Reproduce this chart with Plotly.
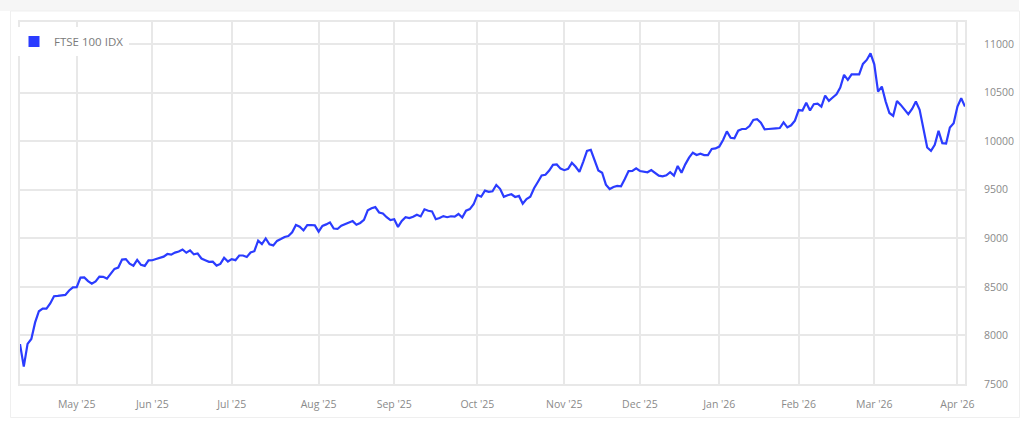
import pandas as pd
import plotly.graph_objects as go

# ---- data: FTSE 100 daily closes (trading days), grouped by month ----
apr25 = [7911, 7679, 7913, 7964, 8134, 8249, 8276, 8276, 8329, 8403, 8407, 8415, 8417, 8463, 8495]
may25 = [8497, 8596, 8597, 8559, 8532, 8555, 8605, 8603, 8585, 8634, 8685, 8699, 8781, 8786, 8739,
         8718, 8778, 8726, 8716, 8772]
jun25 = [8774, 8787, 8801, 8811, 8838, 8832, 8853, 8864, 8885, 8851, 8875, 8834, 8843, 8792, 8775,
         8758, 8759, 8719, 8736, 8799, 8761]
jul25 = [8785, 8775, 8823, 8823, 8807, 8854, 8867, 8976, 8941, 8998, 8938, 8927, 8973, 8992, 9013,
         9024, 9061, 9138, 9120, 9081, 9136, 9137, 9133]
aug25 = [9069, 9128, 9143, 9164, 9101, 9096, 9130, 9148, 9165, 9177, 9139, 9158, 9189, 9288, 9309,
         9321, 9266, 9256, 9217, 9187]
sep25 = [9196, 9117, 9178, 9217, 9208, 9221, 9243, 9225, 9298, 9283, 9277, 9196, 9208, 9228, 9217,
         9227, 9223, 9250, 9214, 9285, 9300, 9350]
oct25 = [9446, 9428, 9491, 9479, 9484, 9549, 9509, 9427, 9443, 9453, 9425, 9436, 9355, 9404, 9427,
         9515, 9579, 9646, 9654, 9697, 9756, 9760, 9717]
nov25 = [9701, 9715, 9777, 9736, 9683, 9787, 9900, 9911, 9808, 9698, 9675, 9552, 9507, 9528, 9540,
         9535, 9610, 9692, 9694, 9721]
dec25 = [9693, 9690, 9680, 9703, 9669, 9645, 9637, 9648, 9680, 9645, 9744, 9675, 9761, 9830, 9881,
         9857, 9870, 9857, 9857, 9919, 9925]
jan26 = [9944, 10012, 10101, 10035, 10030, 10108, 10125, 10125, 10156, 10218, 10225, 10190, 10121,
         10125, 10132, 10132, 10135, 10193, 10142, 10163, 10211]
feb26 = [10320, 10315, 10395, 10315, 10380, 10387, 10356, 10469, 10414, 10449, 10483, 10551, 10682,
         10630, 10688, 10688, 10688, 10795, 10836, 10904]
mar26 = [10791, 10510, 10562, 10410, 10290, 10260, 10414, 10373, 10329, 10277, 10332, 10408, 10322,
         10134, 9935, 9901, 9962, 10106, 9979, 9976, 10140, 10185]
apr26 = [10356, 10442, 10356]

series_name = "FTSE 100 IDX"
y_ticks = [7500, 8000, 8500, 9000, 9500, 10000, 10500, 11000]
market_holidays = ["2025-04-18", "2025-04-21", "2025-05-05", "2025-05-26", "2025-08-25",
                   "2025-12-25", "2025-12-26", "2026-01-01", "2026-04-03", "2026-04-06"]

values = apr25 + may25 + jun25 + jul25 + aug25 + sep25 + oct25 + nov25 + dec25 + jan26 + feb26 + mar26 + apr26
dates = [d for d in pd.bdate_range("2025-04-08", "2026-04-07")
         if d.strftime("%Y-%m-%d") not in market_holidays][:len(values)]
idx = list(range(len(values)))

# month ticks at first trading day of each month (after the first partial month)
tickvals, ticktext = [], []
for i, d in enumerate(dates):
    if i > 0 and d.month != dates[i - 1].month:
        tickvals.append(i)
        ticktext.append(d.strftime("%b '%y"))

# ---- layout geometry (pixels) ----
W, H = 1024, 438
L, R, T, B = 20, 59, 22, 54
pw, ph = W - L - R, H - T - B


def px_x(p):
    return (p - L) / pw


def px_y(p):
    return (H - B - p) / ph


BLUE = "#2b3cff"
GRID = "#e8e8e8"
TXT = "#8a8a8a"
FONT = "Open Sans"

fig = go.Figure()
fig.add_trace(go.Scatter(
    x=idx, y=values, mode="lines", name=series_name, showlegend=False,
    line=dict(color=BLUE, width=2.2),
    customdata=[d.strftime("%d %b %Y") for d in dates],
    hovertemplate="%{customdata}: %{y}<extra></extra>",
))
# legend entry (square swatch)
fig.add_trace(go.Scatter(
    x=[None], y=[None], mode="markers", name=series_name,
    marker=dict(symbol="square", size=11, color=BLUE),
))

fig.update_layout(
    width=W, height=H, autosize=False,
    margin=dict(l=L, r=R, t=T, b=B, pad=0),
    paper_bgcolor="white", plot_bgcolor="white",
    font=dict(family=FONT, size=11, color=TXT),
    showlegend=True,
    legend=dict(x=px_x(14), y=px_y(27), xanchor="left", yanchor="top",
                bgcolor="rgba(255,255,255,1)", borderwidth=0,
                font=dict(family=FONT, size=11.5, color="#7a7a7a"),
                itemwidth=30),
    xaxis=dict(
        range=[0, len(values) - 1], tickmode="array", tickvals=tickvals, ticktext=ticktext,
        showgrid=True, gridcolor=GRID, gridwidth=2, zeroline=False,
        showline=True, linecolor=GRID, linewidth=2, mirror=True,
        ticks="outside", ticklen=9, tickcolor="rgba(0,0,0,0)",
        tickfont=dict(family=FONT, size=10.5, color=TXT), fixedrange=True,
    ),
    yaxis=dict(
        side="right", range=[7500, 7500 + ph * 500 / 48.571], tickmode="array",
        tickvals=y_ticks, ticktext=[str(v) for v in y_ticks],
        showgrid=True, gridcolor=GRID, gridwidth=2, zeroline=False,
        showline=True, linecolor=GRID, linewidth=2, mirror=True,
        ticks="outside", ticklen=15, tickcolor="rgba(0,0,0,0)",
        tickfont=dict(family=FONT, size=10.5, color=TXT), fixedrange=True,
        automargin=False,
    ),
    shapes=[
        dict(type="rect", xref="paper", yref="paper", layer="below",
             x0=px_x(0), x1=px_x(1019), y0=px_y(11), y1=px_y(0),
             fillcolor="#f6f6f6", line=dict(width=0)),
        dict(type="rect", xref="paper", yref="paper", layer="below",
             x0=px_x(10.5), x1=px_x(1019.5), y0=px_y(417.5), y1=px_y(11),
             fillcolor="rgba(0,0,0,0)", line=dict(color="#efefef", width=1)),
    ],
)

fig.write_html(
    "out.html",
    config={"displayModeBar": False},
    post_script="document.body.style.margin='0';document.body.style.padding='0';"
                "document.body.style.overflow='hidden';",
)
